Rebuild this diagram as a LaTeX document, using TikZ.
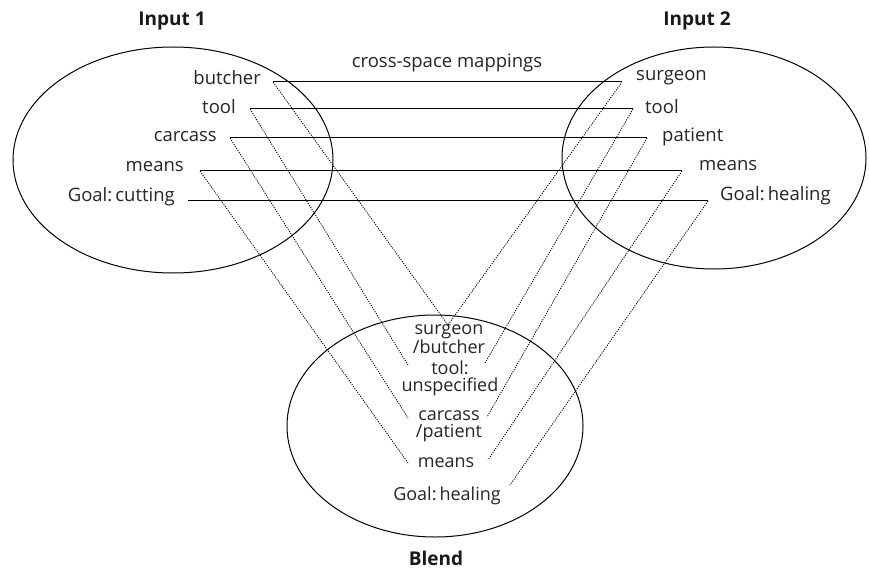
\documentclass[tikz,border=0pt]{standalone}
\usepackage{fontspec}
\setmainfont{Open Sans}
\begin{document}
\begin{tikzpicture}[x=1pt,y=-1pt,
  lbl/.style={font=\fontsize{18.5}{19}\selectfont, inner sep=0pt, text=black!85},
  ttl/.style={font=\fontsize{19}{19}\selectfont\bfseries, inner sep=0pt, text=black!90},
  blendlbl/.style={font=\fontsize{18}{17}\selectfont, inner sep=0pt, align=center, text=black!85},
  space/.style={line width=1pt},
  mapline/.style={line width=1pt},
  dotline/.style={line width=0.8pt, dash pattern=on 1.2pt off 1.2pt}]
\useasboundingbox (0,0) rectangle (869,569);
\fill[white] (0,0) rectangle (869,569);
% spaces
\draw[space] (173,160) ellipse [x radius=160, y radius=113];
\draw[space] (714,158) ellipse [x radius=152, y radius=111];
\draw[space] (435,426) ellipse [x radius=148, y radius=111];
% titles
\node[ttl] (in1) at (172,21) {Input 1};
\node[ttl] (in2) at (697,21) {Input 2};
\node[ttl] (bl) at (436,558) {Blend};
\node[lbl] (csm) at (447,63) {cross-space mappings};
% input 1 labels
\node[lbl, anchor=east] (butcher) at (261,78) {butcher};
\node[lbl, anchor=east] (tool1) at (236,107) {tool};
\node[lbl, anchor=east] (carcass) at (217,137) {carcass};
\node[lbl, anchor=east] (means1) at (184,167) {means};
\node[lbl, anchor=east] (goal1) at (175,197) {Goal:\,cutting};
% input 2 labels
\node[lbl, anchor=west] (surgeon) at (636,78) {surgeon};
\node[lbl, anchor=west] (tool2) at (645,107) {tool};
\node[lbl, anchor=west] (patient) at (662,137) {patient};
\node[lbl, anchor=west] (means2) at (699,166) {means};
\node[lbl, anchor=west] (goal2) at (720,196) {Goal:\,healing};
% blend labels
\node[blendlbl] (bsb) at (449,339) {surgeon\\/butcher};
\node[blendlbl] (btu) at (450,378) {tool:\\unspecified};
\node[blendlbl] (bcp) at (449,426) {carcass\\/patient};
\node[blendlbl] (bm) at (446,463) {means};
\node[blendlbl] (bg) at (447,496) {Goal:\,healing};
% line end points
\coordinate (l1) at (273,82);
\coordinate (l2) at (250,109);
\coordinate (l3) at (230,138);
\coordinate (l4) at (200,171);
\coordinate (l5) at (188,201);
\coordinate (r1) at (622,82);
\coordinate (r2) at (633,109);
\coordinate (r3) at (647,138);
\coordinate (r4) at (682,171);
\coordinate (r5) at (708,201);
\coordinate (b1) at (448,325);
\coordinate (bl2) at (408,365);
\coordinate (br2) at (485,363);
\coordinate (bl3) at (408,418);
\coordinate (br3) at (487,417);
\coordinate (bl4) at (408,463);
\coordinate (br4) at (488,460);
\coordinate (br5) at (510,485);
% cross-space mappings
\draw[mapline] (l1) -- (r1);
\draw[mapline] (l2) -- (r2);
\draw[mapline] (l3) -- (r3);
\draw[mapline] (l4) -- (r4);
\draw[mapline] (l5) -- (r5);
% projections to blend
\draw[dotline] (l1) -- (b1) -- (r1);
\draw[dotline] (l2) -- (bl2);
\draw[dotline] (r2) -- (br2);
\draw[dotline] (l3) -- (bl3);
\draw[dotline] (r3) -- (br3);
\draw[dotline] (l4) -- (bl4);
\draw[dotline] (r4) -- (br4);
\draw[dotline] (r5) -- (br5);
\end{tikzpicture}
\end{document}
